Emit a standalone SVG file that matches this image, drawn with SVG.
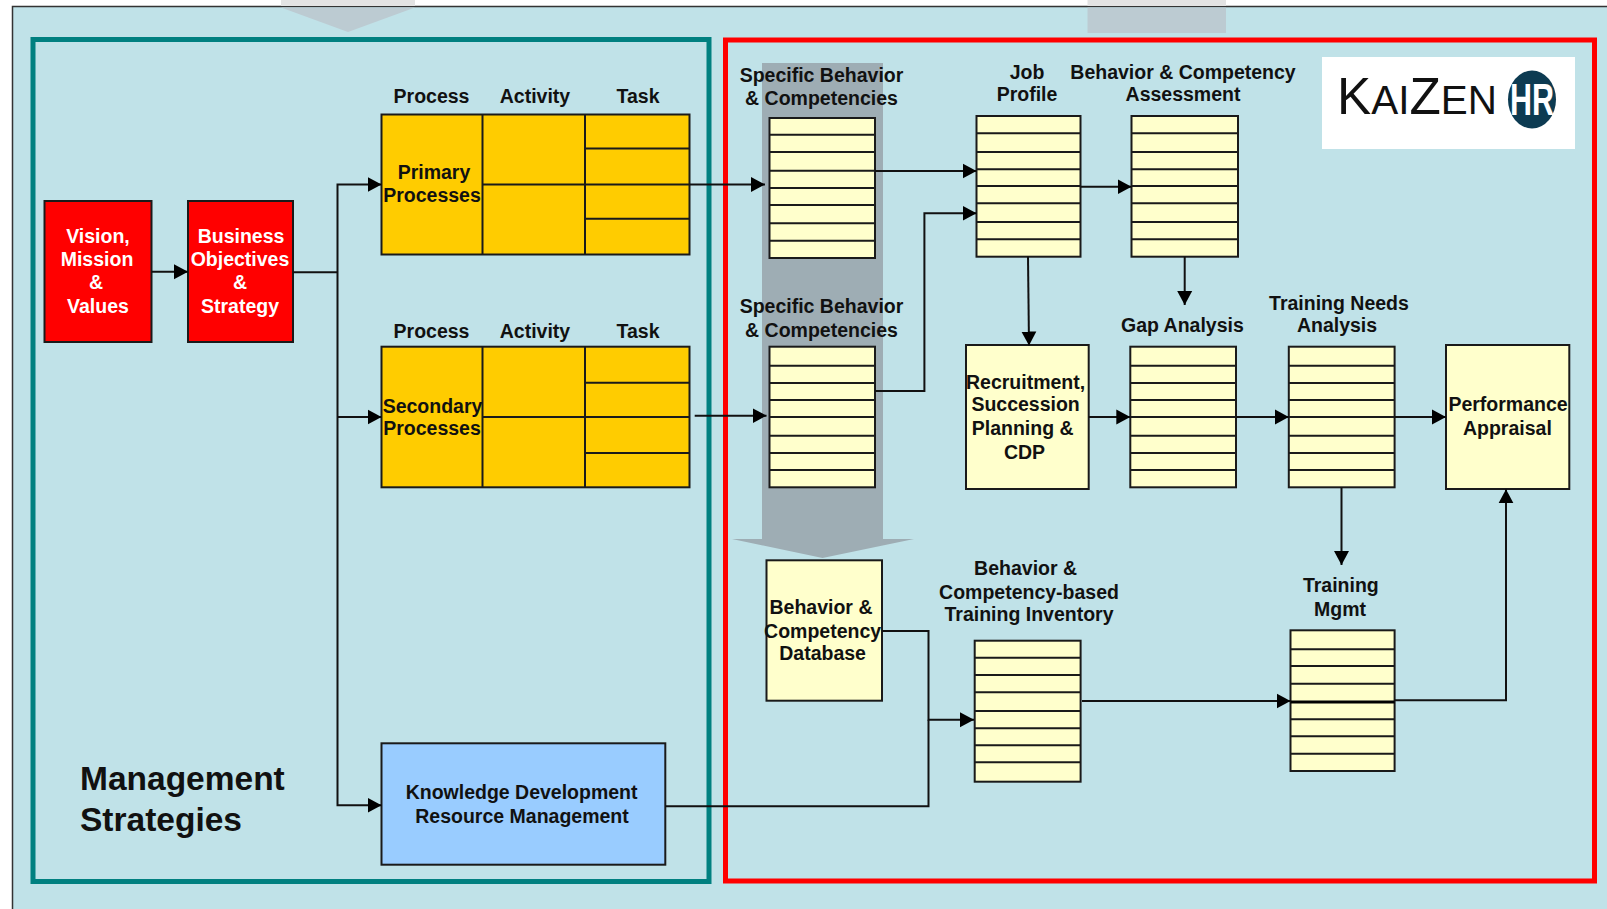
<svg xmlns="http://www.w3.org/2000/svg" width="1607" height="909" viewBox="0 0 1607 909">
<style>
text{font-family:"Liberation Sans",Arial,sans-serif;font-weight:bold;font-size:19.500px;fill:#111;text-anchor:middle}
.w{fill:#fff}
.box{stroke:#1a1a1a;stroke-width:2}
.red{fill:#f00}.gold{fill:#fc0}.cream{fill:#ffc}.blue{fill:#9cf}
.div{fill:none;stroke:#1a1a1a;stroke-width:2}
.c{fill:none;stroke:#111;stroke-width:2}
.a{marker-end:url(#arrow)}
.title{font-size:33.500px;text-anchor:start}
</style>
<defs>
<marker id="arrow" markerUnits="userSpaceOnUse" markerWidth="15" markerHeight="16" refX="14" refY="8" orient="auto"><path d="M0,0.500 L14,8 L0,15.500 Z" fill="#000"/></marker>
</defs>
<rect width="1607" height="909" fill="#fff"/>
<rect x="12.500" y="6.500" width="1600" height="910" fill="#c0e2e8" stroke="#333" stroke-width="1.500"/>
<g id="bg-arrows">
<rect x="281" y="0" width="134" height="6" fill="#e3e3e3"/>
<path d="M281,7.500H415L348,32Z" fill="#bccbd2"/>
<rect x="1087.500" y="0" width="138.500" height="6" fill="#e3e3e3"/>
<rect x="1087.500" y="7.500" width="138.500" height="25.500" fill="#bccbd2"/>
<path d="M762,63H883V539H914L822.500,558L732,539H762Z" fill="#9eadb4"/>
</g>
<g id="frames" fill="none" stroke-width="5">
<rect x="33" y="39.500" width="676" height="842" stroke="#008080"/>
<rect x="725.500" y="40" width="869" height="841" stroke="#f00"/>
</g>
<g id="logo">
<rect x="1322" y="57" width="253" height="92" fill="#fff"/>
<text x="1337" y="114" textLength="160" lengthAdjust="spacingAndGlyphs" style="font-weight:normal;font-size:41px;text-anchor:start"><tspan style="font-size:52px">K</tspan>AI<tspan style="font-size:52px">Z</tspan>EN</text>
<ellipse cx="1532" cy="99.500" rx="24" ry="29" fill="#0d3b52"/>
<text class="w" x="1532" y="115" textLength="44" lengthAdjust="spacingAndGlyphs" style="font-size:44px">HR</text>
</g>
<g id="vision"><rect class="box red" x="44.500" y="201" width="107" height="141"/><text class="w" x="98" y="243.300">Vision,</text><text class="w" x="97" y="265.700">Mission</text><text class="w" x="96" y="289">&amp;</text><text class="w" x="98" y="313">Values</text></g>
<g id="business"><rect class="box red" x="188" y="201" width="105" height="141"/><text class="w" x="241" y="243.300">Business</text><text class="w" x="240" y="265.700">Objectives</text><text class="w" x="240" y="289">&amp;</text><text class="w" x="240" y="313">Strategy</text></g>
<g id="primary"><text x="431.500" y="103">Process</text><text x="535" y="103">Activity</text><text x="638" y="103">Task</text>
<rect class="box gold" x="381.500" y="114.500" width="308" height="140"/><path class="div" d="M482.500,114.500V254.500M585,114.500V254.500M482.500,184.500H689.500M585,148.500H689.500M585,218.700H689.500"/>
<text x="434" y="179">Primary</text><text x="432" y="202">Processes</text></g>
<g id="secondary"><text x="431.500" y="337.700">Process</text><text x="535" y="337.700">Activity</text><text x="638" y="337.700">Task</text>
<rect class="box gold" x="381.500" y="346.700" width="308" height="140.600"/><path class="div" d="M482.500,346.700V487.300M585,346.700V487.300M482.500,417H689.500M585,382.700H689.500M585,453H689.500"/>
<text x="432.500" y="413">Secondary</text><text x="432" y="434.700">Processes</text></g>
<g id="knowledge"><rect class="box blue" x="381.500" y="743.300" width="283.800" height="121.400"/><text x="521.600" y="798.700">Knowledge Development</text><text x="522" y="822.700">Resource Management</text></g>
<text id="management" class="title"><tspan x="80" y="790">Management</tspan><tspan x="80" y="831">Strategies</tspan></text>
<g id="spec1"><text x="821.500" y="82.300">Specific Behavior</text><text x="821.500" y="104.700">&amp; Competencies</text>
<rect class="box cream" x="769.500" y="118" width="105.500" height="140"/><path class="div" d="M769.500,134.700H875M769.500,152H875M769.500,170.700H875M769.500,188H875M769.500,205H875M769.500,223.300H875M769.500,240.700H875"/></g>
<g id="spec2"><text x="821.500" y="313.300">Specific Behavior</text><text x="821.500" y="337.300">&amp; Competencies</text>
<rect class="box cream" x="769.500" y="346.700" width="105.500" height="140.600"/><path class="div" d="M769.500,365.700H875M769.500,383H875M769.500,400H875M769.500,417H875M769.500,435.700H875M769.500,453H875M769.500,470H875"/></g>
<g id="job"><text x="1027" y="79.300">Job</text><text x="1027" y="101.300">Profile</text>
<rect class="box cream" x="976.500" y="116" width="104" height="140.700"/><path class="div" d="M976.500,133.300H1080.500M976.500,152H1080.500M976.500,169.300H1080.500M976.500,186H1080.500M976.500,203.300H1080.500M976.500,222H1080.500M976.500,239.300H1080.500"/></g>
<g id="assessment"><text x="1183" y="79.300">Behavior &amp; Competency</text><text x="1183" y="101.300">Assessment</text>
<rect class="box cream" x="1131.500" y="116" width="106.500" height="140.700"/><path class="div" d="M1131.500,133.300H1238M1131.500,152H1238M1131.500,169.300H1238M1131.500,186H1238M1131.500,203.300H1238M1131.500,222H1238M1131.500,239.300H1238"/></g>
<g id="recruitment"><rect class="box cream" x="966" y="345" width="122.700" height="144"/><text x="1025.600" y="388.700">Recruitment,</text><text x="1025.600" y="411">Succession</text><text x="1022.700" y="434.700">Planning &amp;</text><text x="1024.500" y="458.700">CDP</text></g>
<g id="gap"><text x="1182.400" y="332.300">Gap Analysis</text>
<rect class="box cream" x="1130.300" y="346.700" width="105.700" height="140.600"/><path class="div" d="M1130.300,365.700H1236M1130.300,383H1236M1130.300,400H1236M1130.300,417H1236M1130.300,435.700H1236M1130.300,453H1236M1130.300,470H1236"/></g>
<g id="tna"><text x="1339" y="310.300">Training Needs</text><text x="1337" y="332.300">Analysis</text>
<rect class="box cream" x="1288.800" y="346.700" width="105.800" height="140.600"/><path class="div" d="M1288.800,365.700H1394.600M1288.800,383H1394.600M1288.800,400H1394.600M1288.800,417H1394.600M1288.800,435.700H1394.600M1288.800,453H1394.600M1288.800,470H1394.600"/></g>
<g id="performance"><rect class="box cream" x="1446" y="345" width="123.300" height="144"/><text x="1508" y="411">Performance</text><text x="1507.400" y="434.700">Appraisal</text></g>
<g id="database"><rect class="box cream" x="766.500" y="560.300" width="115.500" height="140.400"/><text x="821" y="614">Behavior &amp;</text><text x="822.600" y="638.300">Competency</text><text x="822.600" y="660.300">Database</text></g>
<g id="inventory"><text x="1025.600" y="574.700">Behavior &amp;</text><text x="1029" y="598.700">Competency-based</text><text x="1029" y="621.300">Training Inventory</text>
<rect class="box cream" x="974.700" y="640.700" width="105.900" height="141"/><path class="div" d="M974.700,657.700H1080.600M974.700,675H1080.600M974.700,692.300H1080.600M974.700,711H1080.600M974.700,728.300H1080.600M974.700,745.300H1080.600M974.700,762.300H1080.600"/></g>
<g id="training"><text x="1340.800" y="592">Training</text><text x="1340" y="616">Mgmt</text>
<rect class="box cream" x="1290.500" y="630.300" width="104.100" height="140.700"/><path class="div" d="M1290.500,649.300H1394.600M1290.500,666H1394.600M1290.500,683.700H1394.600M1290.500,719.300H1394.600M1290.500,736.300H1394.600M1290.500,753.700H1394.600"/><path class="div" style="stroke-width:3;stroke:#000" d="M1290.500,702H1394.600"/></g>
<g id="connectors">
<path class="c a" d="M151.500,271.700H188"/>
<path class="c" d="M293,272.300H337.500"/>
<path class="c a" d="M337.500,417V184.500H381.500"/>
<path class="c a" d="M337.500,417H381.500"/>
<path class="c a" d="M337.500,417V805.300H381.500"/>
<path class="c a" d="M689.500,184.500H765"/>
<path class="c a" d="M694.700,415.700H766.500"/>
<path class="c a" d="M875,171H976.500"/>
<path class="c a" d="M875,391H924.400V213.300H976.500"/>
<path class="c a" d="M1080.500,186.700H1131.500"/>
<path class="c a" d="M1028,256.700L1029,345.500"/>
<path class="c a" d="M1184.700,256.700V305"/>
<path class="c a" d="M1088.700,417H1130.300"/>
<path class="c a" d="M1236,417H1288.800"/>
<path class="c a" d="M1394.600,417H1446"/>
<path class="c a" d="M1341.500,487.300V565"/>
<path class="c a" d="M1082,701H1290.500"/>
<path class="c a" d="M1394.600,700.300H1506V489.300"/>
<path class="c a" d="M882,631H928.500V719.700H974"/>
<path class="c" d="M665.300,806.300H928.500V719.700"/>
</g>
</svg>
